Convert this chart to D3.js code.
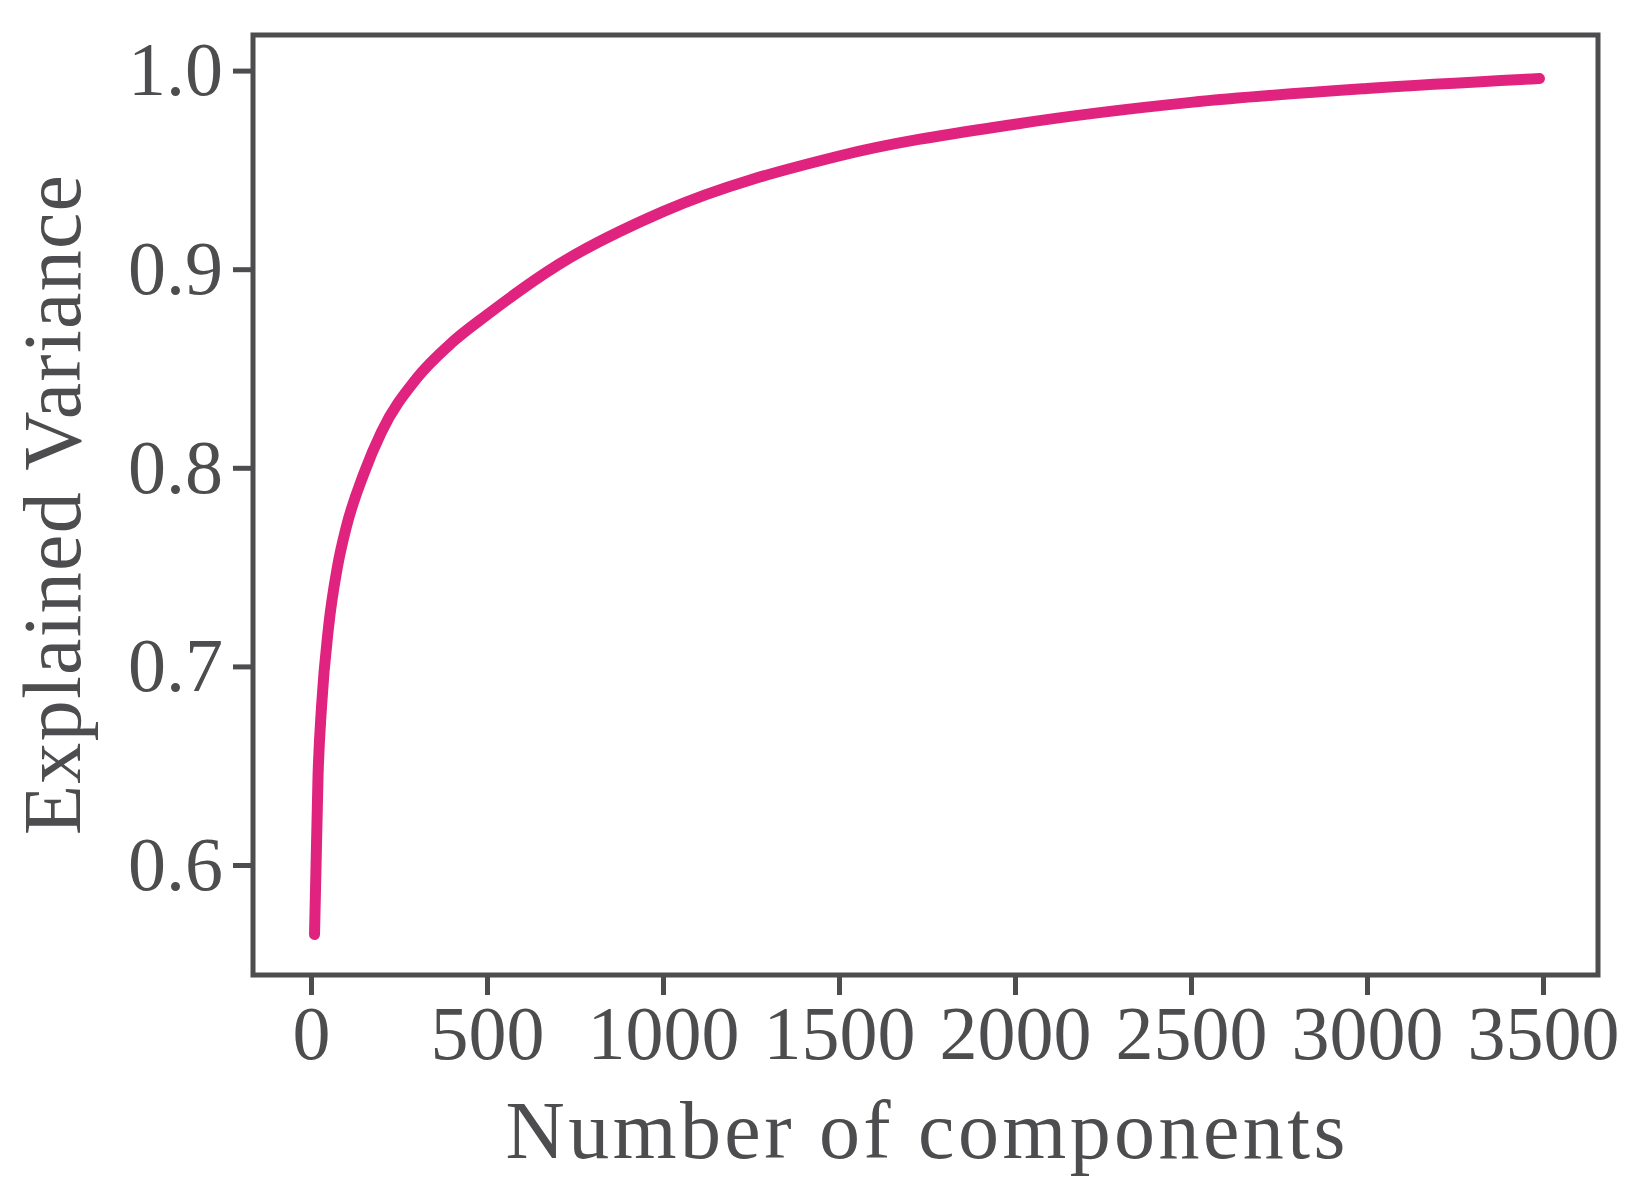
<!DOCTYPE html><html><head><meta charset="utf-8"><script src="https://cdn.jsdelivr.net/npm/d3@7"></script>
<style>body{margin:0;background:#fff}</style></head><body><svg id="c" width="1645" height="1190"></svg>
<script>
const comps=[10,20,30,50,75,100,150,200,300,400,500,700,1000,1500,2000,2500,3000,3490];
const variance=[0.565,0.645,0.68,0.72,0.75,0.77,0.797,0.818,0.845,0.863,0.877,0.902,0.929,0.957,0.973,0.984,0.991,0.996];
const xTicks=[0,500,1000,1500,2000,2500,3000,3500];
const yTicks=[0.6,0.7,0.8,0.9,1.0];
const col="#4d4d4f",F="'Liberation Serif','DejaVu Serif',serif";
const L=253,R=1598,T=35,B=975;
const x=d3.scaleLinear().domain([0,3500]).range([311,1543]);
const y=d3.scaleLinear().domain([0.6,1.0]).range([865,70.6]);
const s=d3.select("#c");
s.append("path").datum(comps.map((c,i)=>[c,variance[i]])).attr("fill","none").attr("stroke","#e0237f").attr("stroke-width",11).attr("stroke-linecap","round").attr("stroke-linejoin","round")
 .attr("d",d3.line().x(d=>x(d[0])).y(d=>y(d[1])).curve(d3.curveMonotoneX));
s.append("rect").attr("x",L).attr("y",T).attr("width",R-L).attr("height",B-T).attr("fill","none").attr("stroke",col).attr("stroke-width",5);
const gx=s.append("g").attr("transform",`translate(0,${B})`).call(d3.axisBottom(x).tickValues(xTicks).tickSize(20).tickPadding(10).tickFormat(d3.format("d")));
const gy=s.append("g").attr("transform",`translate(${L},0)`).call(d3.axisLeft(y).tickValues(yTicks).tickSize(20).tickPadding(10).tickFormat(d3.format(".1f")));
[gx,gy].forEach(g=>{g.select(".domain").remove();g.selectAll("line").attr("stroke",col).attr("stroke-width",5);g.selectAll("text").attr("fill",col).attr("font-family",F).attr("font-size",76);});
gx.selectAll("text").attr("textLength",null);
s.append("text").attr("x",(L+R)/2).attr("y",1158).attr("text-anchor","middle").attr("fill",col).attr("font-family",F).attr("font-size",82).attr("textLength",840).text("Number of components");
s.append("text").attr("transform",`translate(80,${(T+B)/2}) rotate(-90)`).attr("text-anchor","middle").attr("fill",col).attr("font-family",F).attr("font-size",82).attr("textLength",660).text("Explained Variance");
</script></body></html>
